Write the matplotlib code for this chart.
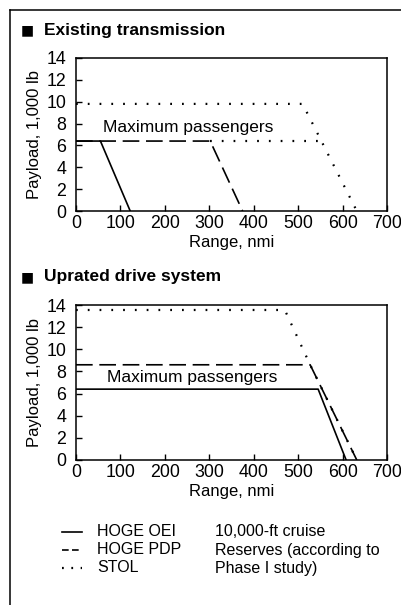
import matplotlib.pyplot as plt
from matplotlib.lines import Line2D

plt.rcParams['font.family'] = ['Liberation Sans', 'DejaVu Sans']
plt.rcParams['font.size'] = 12

# existing transmission
oei_x1 = [0, 55, 122]
oei_y1 = [6.4, 6.4, 0]
pdp_x1 = [0, 302, 375]
pdp_y1 = [6.4, 6.4, 0]
stol_x1 = [0, 510, 632]
stol_y1 = [9.8, 9.8, 0]
maxpass_x1 = [302, 553]
maxpass_y1 = [6.4, 6.4]

# uprated drive system
oei_x2 = [0, 545, 608]
oei_y2 = [6.4, 6.4, 0]
pdp_x2 = [0, 527, 632]
pdp_y2 = [8.6, 8.6, 0]
stol_x2 = [0, 470, 527, 632]
stol_y2 = [13.55, 13.55, 8.6, 0]

xticks = [0, 100, 200, 300, 400, 500, 600, 700]
yticks = [0, 2, 4, 6, 8, 10, 12, 14]

solid = dict(color='black', lw=1.2, ls='-')
dashed = dict(color='black', lw=1.2, ls=(0, (10, 4)))
dotted = dict(color='black', lw=1.6, ls=(0, (0.8, 4.5)))

fig = plt.figure(figsize=(4.01, 6.05), dpi=100)
W, H = 401, 605


def make_ax(top, bottom):
    ax = fig.add_axes([76 / W, 1 - bottom / H, 311 / W, (bottom - top) / H])
    ax.set_xlim(0, 700)
    ax.set_ylim(0, 14)
    ax.set_xticks(xticks)
    ax.set_yticks(yticks)
    ax.tick_params(direction='in', length=4, width=1, labelsize=12.8)
    ax.tick_params(axis='x', pad=3)
    ax.tick_params(axis='y', pad=7)
    for s in ax.spines.values():
        s.set_linewidth(1.1)
    ax.set_xlabel('Range, nmi', labelpad=2)
    ax.set_ylabel('Payload, 1,000 lb', labelpad=3)
    return ax


ax1 = make_ax(58, 211)
ax1.plot(oei_x1, oei_y1, **solid)
ax1.plot(pdp_x1, pdp_y1, **dashed)
ax1.plot(stol_x1, stol_y1, **dotted)
ax1.plot(maxpass_x1, maxpass_y1, **dotted)
ax1.text(61, 7.6, 'Maximum passengers', va='center', ha='left', fontsize=12.5)

ax2 = make_ax(305, 460)
ax2.plot(oei_x2, oei_y2, **solid)
ax2.plot(pdp_x2, pdp_y2, **dashed)
ax2.plot(stol_x2, stol_y2, **dotted)
ax2.text(70, 7.45, 'Maximum passengers', va='center', ha='left', fontsize=12.5)

# section titles
for y, label in [(30, 'Existing transmission'), (277, 'Uprated drive system')]:
    fig.text(21 / W, 1 - y / H, '\u25a0', fontsize=10, family='DejaVu Sans',
             va='center', ha='left')
    fig.text(44 / W, 1 - y / H, label, fontsize=12.5, fontweight='bold',
             va='center', ha='left')

# legend
leg_dashed = dict(dashed, ls=(0, (4, 2)))
leg_dotted = dict(dotted, ls=(0, (0.8, 3.4)))
leg_rows = [(532, 'HOGE OEI', '10,000-ft cruise', solid),
            (550, 'HOGE PDP', 'Reserves (according to', leg_dashed),
            (568, 'STOL', 'Phase I study)', leg_dotted)]
for y, name, note, style in leg_rows:
    yf = 1 - y / H
    fig.add_artist(Line2D([62 / W, 82 / W], [yf, yf], **style))
    fig.text(97 / W, yf, name, va='center', ha='left', fontsize=11.5)
    fig.text(215 / W, yf, note, va='center', ha='left', fontsize=11.5)

# outer frame
fig.add_artist(Line2D([10 / W, 10 / W], [0, 1 - 10 / H], color='black', lw=1.1))
fig.add_artist(Line2D([10 / W, 1], [1 - 10 / H, 1 - 10 / H], color='black', lw=1.1))

fig.savefig('out.png', dpi=100)
